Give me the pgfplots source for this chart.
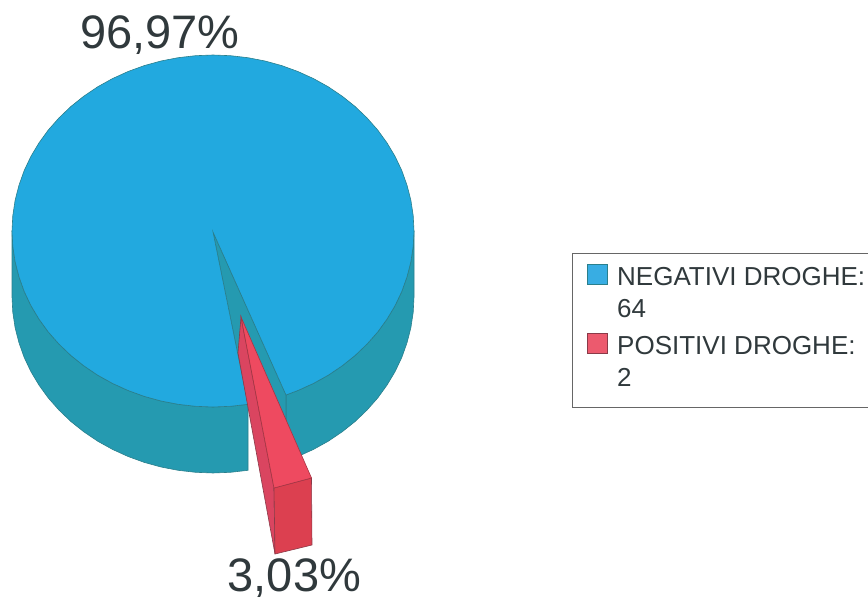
\documentclass[border=0pt]{standalone}
\usepackage{pgfplots}
\pgfplotsset{compat=1.18}
\usepackage{fontspec}
\setmainfont{Liberation Sans}
\definecolor{bluetop}{HTML}{22A9DF}
\definecolor{bluewall}{HTML}{259AB0}
\definecolor{blueedge}{HTML}{2A7F8C}
\definecolor{redtop}{HTML}{EE4A60}
\definecolor{redfront}{HTML}{DC4050}
\definecolor{redside}{HTML}{DA4560}
\definecolor{rededge}{HTML}{8A3A48}
\definecolor{swred}{HTML}{EC5A6E}
\definecolor{swblue}{HTML}{38ADE3}
\definecolor{inktext}{HTML}{30393C}
\begin{document}
\begin{tikzpicture}
\useasboundingbox (0,0) rectangle (868pt,601pt);
\begin{axis}[
    scale only axis, width=868pt, height=601pt,
    xmin=0, xmax=868, ymin=0, ymax=601,
    y dir=reverse, hide axis, anchor=south west, at={(0,0)}
    ]
    % left wall of the big slice
    \addplot[fill=bluewall, draw=blueedge, line width=0.6pt] coordinates {
        (12,231) (12.8,246.3) (15.1,261.6) (18.9,276.5) (24.1,291.2) (30.8,305.4) (38.9,319) (48.3,332) (59,344.1) (70.9,355.5) (83.8,365.8) (97.7,375.2) (112.5,383.4) (128.1,390.5) (144.3,396.4) (161,401) (178.1,404.3) (195.5,406.3) (213,407) (230.5,406.3) (248,404.3)
        (248,470.3) (230.5,472.3) (213,473) (195.5,472.3) (178.1,470.3) (161,467) (144.3,462.4) (128.1,456.5) (112.5,449.4) (97.7,441.2) (83.8,431.8) (70.9,421.5) (59,410.1) (48.3,398) (38.9,385) (30.8,371.4) (24.1,357.2) (18.9,342.5) (15.1,327.6) (12.8,312.3) (12,297)
    } -- cycle;
    % right wall
    \addplot[fill=bluewall, draw=blueedge, line width=0.6pt] coordinates {
        (414,231) (413.2,246.3) (410.9,261.6) (407.1,276.5) (401.9,291.2) (395.2,305.4) (387.1,319) (377.7,332) (367,344.1) (355.1,355.5) (342.2,365.8) (328.3,375.2) (313.5,383.4) (297.9,390.5) (286,395)
        (286,461) (297.9,456.5) (313.5,449.4) (328.3,441.2) (342.2,431.8) (355.1,421.5) (367,410.1) (377.7,398) (387.1,385) (395.2,371.4) (401.9,357.2) (407.1,342.5) (410.9,327.6) (413.2,312.3) (414,297)
    } -- cycle;
    % wall seen inside the cut
    \addplot[fill=bluewall, draw=blueedge, line width=0.6pt] coordinates {
        (213,232) (286,395) (286,430) (248,404.3)
    } -- cycle;
    % top face
    \addplot[fill=bluetop, draw=blueedge, line width=0.6pt] coordinates {
        (213,232) (286,395) (297.9,390.5) (313.5,383.4) (328.3,375.2) (342.2,365.8) (355.1,355.5) (367,344.1) (377.7,332) (387.1,319) (395.2,305.4) (401.9,291.2) (407.1,276.5) (410.9,261.6) (413.2,246.3) (414,231)
        (413.2,215.7) (410.9,200.4) (407.1,185.5) (401.9,170.8) (395.2,156.6) (387.1,143) (377.7,130) (367,117.9) (355.1,106.5) (342.2,96.2) (328.3,86.8) (313.5,78.6) (297.9,71.5) (281.7,65.6) (265,61) (247.9,57.7) (230.5,55.7) (213,55)
        (195.5,55.7) (178.1,57.7) (161,61) (144.3,65.6) (128.1,71.5) (112.5,78.6) (97.7,86.8) (83.8,96.2) (70.9,106.5) (59,117.9) (48.3,130) (38.9,143) (30.8,156.6) (24.1,170.8) (18.9,185.5) (15.1,200.4) (12.8,215.7) (12,231)
        (12.8,246.3) (15.1,261.6) (18.9,276.5) (24.1,291.2) (30.8,305.4) (38.9,319) (48.3,332) (59,344.1) (70.9,355.5) (83.8,365.8) (97.7,375.2) (112.5,383.4) (128.1,390.5) (144.3,396.4) (161,401) (178.1,404.3) (195.5,406.3) (213,407) (230.5,406.3) (248,404.3)
    } -- cycle;
    % small slice
    \addplot[fill=redside, draw=rededge, line width=0.6pt] coordinates {
        (241,317) (274,488) (275,554) (238,353)
    } -- cycle;
    \addplot[fill=redfront, draw=rededge, line width=0.6pt] coordinates {
        (274,488) (311.5,478) (312,545) (275,554)
    } -- cycle;
    \addplot[fill=redtop, draw=redtop!70!black, line width=0.6pt] coordinates {
        (241,317) (311.5,478) (274,488)
    } -- cycle;
    % legend
    \addplot[fill=white, draw=black!60, line width=0.7pt] coordinates {
        (572,253) (880,253) (880,407.5) (572,407.5)
    } -- cycle;
    \addplot[fill=swblue, draw=blueedge, line width=0.6pt] coordinates {
        (587.5,264) (607.5,264) (607.5,284.5) (587.5,284.5)
    } -- cycle;
    \addplot[fill=swred, draw=rededge, line width=0.6pt] coordinates {
        (587.5,333) (607,333) (607,353) (587.5,353)
    } -- cycle;
    \node[anchor=base west, inner sep=0pt, text=inktext, font=\fontsize{47}{47}\selectfont] at (axis cs:80,49) {96,97\%};
    \node[anchor=base west, inner sep=0pt, text=inktext, font=\fontsize{47}{47}\selectfont] at (axis cs:227.5,591.5) {3,03\%};
    \node[anchor=base west, inner sep=0pt, text=inktext, font=\fontsize{26}{26}\selectfont] at (axis cs:617,285.7) {NEGATIVI DROGHE:};
    \node[anchor=base west, inner sep=0pt, text=inktext, font=\fontsize{26}{26}\selectfont] at (axis cs:617,317.7) {64};
    \node[anchor=base west, inner sep=0pt, text=inktext, font=\fontsize{26}{26}\selectfont] at (axis cs:617,355) {POSITIVI DROGHE:};
    \node[anchor=base west, inner sep=0pt, text=inktext, font=\fontsize{26}{26}\selectfont] at (axis cs:617,387) {2};
\end{axis}
\end{tikzpicture}
\end{document}
